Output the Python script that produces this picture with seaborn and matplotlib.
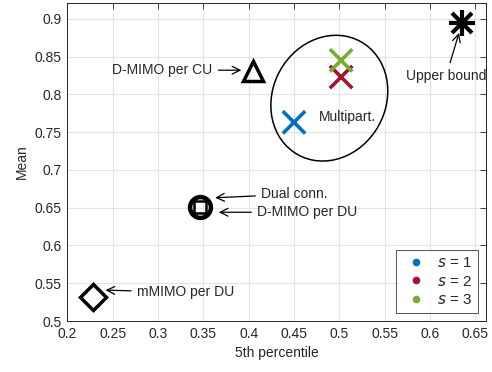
import numpy as np
import pandas as pd
import matplotlib
matplotlib.use('Agg')
import matplotlib.pyplot as plt
import seaborn as sns
from matplotlib.patches import Ellipse
from matplotlib.lines import Line2D

# multipartition points, one per s
s_vals = [1, 2, 3]
mp_x = [0.450, 0.502, 0.502]
mp_y = [0.763, 0.823, 0.845]

# reference schemes
ref_names = ['Upper bound', 'D-MIMO per CU', 'Dual conn.', 'D-MIMO per DU', 'mMIMO per DU']
ref_x = [0.635, 0.405, 0.346, 0.346, 0.228]
ref_y = [0.895, 0.831, 0.651, 0.651, 0.532]

colors = ['#0072BD', '#A2142F', '#77AC30']

sns.set_style('whitegrid')
plt.rcParams['font.family'] = ['Liberation Sans', 'DejaVu Sans']

fig = plt.figure(figsize=(4.92, 3.72), dpi=100)
ax = fig.add_axes([0.137, 0.137, 0.851, 0.855])

mp = pd.DataFrame({'x': mp_x, 'y': mp_y, 's': s_vals})
sns.scatterplot(data=mp, x='x', y='y', hue='s', palette=colors, marker='x',
                s=260, linewidth=2.6, ax=ax, legend=False, zorder=3)

# black markers
ax.plot(ref_x[0], ref_y[0], marker='+', ms=19, mew=3, color='k', ls='none')
ax.plot(ref_x[0], ref_y[0], marker='x', ms=14, mew=3, color='k', ls='none')
ax.plot(ref_x[1], ref_y[1], marker='^', ms=15, mew=2.5, mfc='none', mec='k', ls='none')
ax.plot(ref_x[2], ref_y[2], marker='o', ms=15, mew=3.2, mfc='none', mec='k', ls='none')
ax.plot(ref_x[3], ref_y[3], marker='s', ms=9, mew=1.8, mfc='none', mec='k', ls='none')
ax.plot(ref_x[4], ref_y[4], marker='D', ms=13, mew=2.5, mfc='none', mec='k', ls='none')

ax.add_patch(Ellipse((0.489, 0.795), 0.127, 0.168, angle=-12, fill=False,
                     ec='k', lw=1.1, zorder=2))

arw = dict(arrowstyle='->', color='k', lw=0.9, mutation_scale=14)
fs = 10
ax.annotate('Upper bound', xy=(0.633, 0.885), xytext=(0.618, 0.834),
            ha='center', va='top', fontsize=fs, arrowprops=arw)
ax.annotate('D-MIMO per CU', xy=(0.395, 0.832), xytext=(0.360, 0.832),
            ha='right', va='center', fontsize=fs, arrowprops=arw)
ax.annotate('Dual conn.', xy=(0.360, 0.663), xytext=(0.414, 0.668),
            ha='left', va='center', fontsize=fs, arrowprops=arw)
ax.annotate('D-MIMO per DU', xy=(0.364, 0.644), xytext=(0.4096, 0.644),
            ha='left', va='center', fontsize=fs, arrowprops=arw)
ax.annotate('mMIMO per DU', xy=(0.239, 0.541), xytext=(0.277, 0.538),
            ha='left', va='center', fontsize=fs, arrowprops=arw)
ax.text(0.478, 0.770, 'Multipart.', fontsize=fs, ha='left', va='center')

ax.set_xlim(0.2, 0.662)
ax.set_ylim(0.5, 0.921)
ax.set_xticks(np.arange(0.2, 0.651, 0.05))
ax.set_yticks(np.arange(0.5, 0.901, 0.05))
ax.set_xticklabels(['0.2', '0.25', '0.3', '0.35', '0.4', '0.45', '0.5', '0.55', '0.6', '0.65'])
ax.set_yticklabels(['0.5', '0.55', '0.6', '0.65', '0.7', '0.75', '0.8', '0.85', '0.9'])
ax.set_xlabel('5th percentile', fontsize=10)
ax.set_ylabel('Mean', fontsize=10)
ax.tick_params(direction='in', top=True, right=True, length=4, width=0.6,
               labelsize=10, color='#262626', pad=4)
ax.grid(True, color='#e3e3e3', lw=0.8)
for sp in ax.spines.values():
    sp.set_color('#262626')
    sp.set_linewidth(0.7)

handles = [Line2D([], [], marker='o', ms=4.5, color=c, ls='none') for c in colors]
labels = [f'$s$ = {v}' for v in s_vals]
leg = ax.legend(handles, labels, loc='lower right', fontsize=11, frameon=True,
                fancybox=False, edgecolor='#262626', handletextpad=0.5,
                handlelength=1.8, borderpad=0.4, labelspacing=0.3, borderaxespad=0.5)
leg.get_frame().set_linewidth(0.7)

fig.savefig('out.png', dpi=100)
